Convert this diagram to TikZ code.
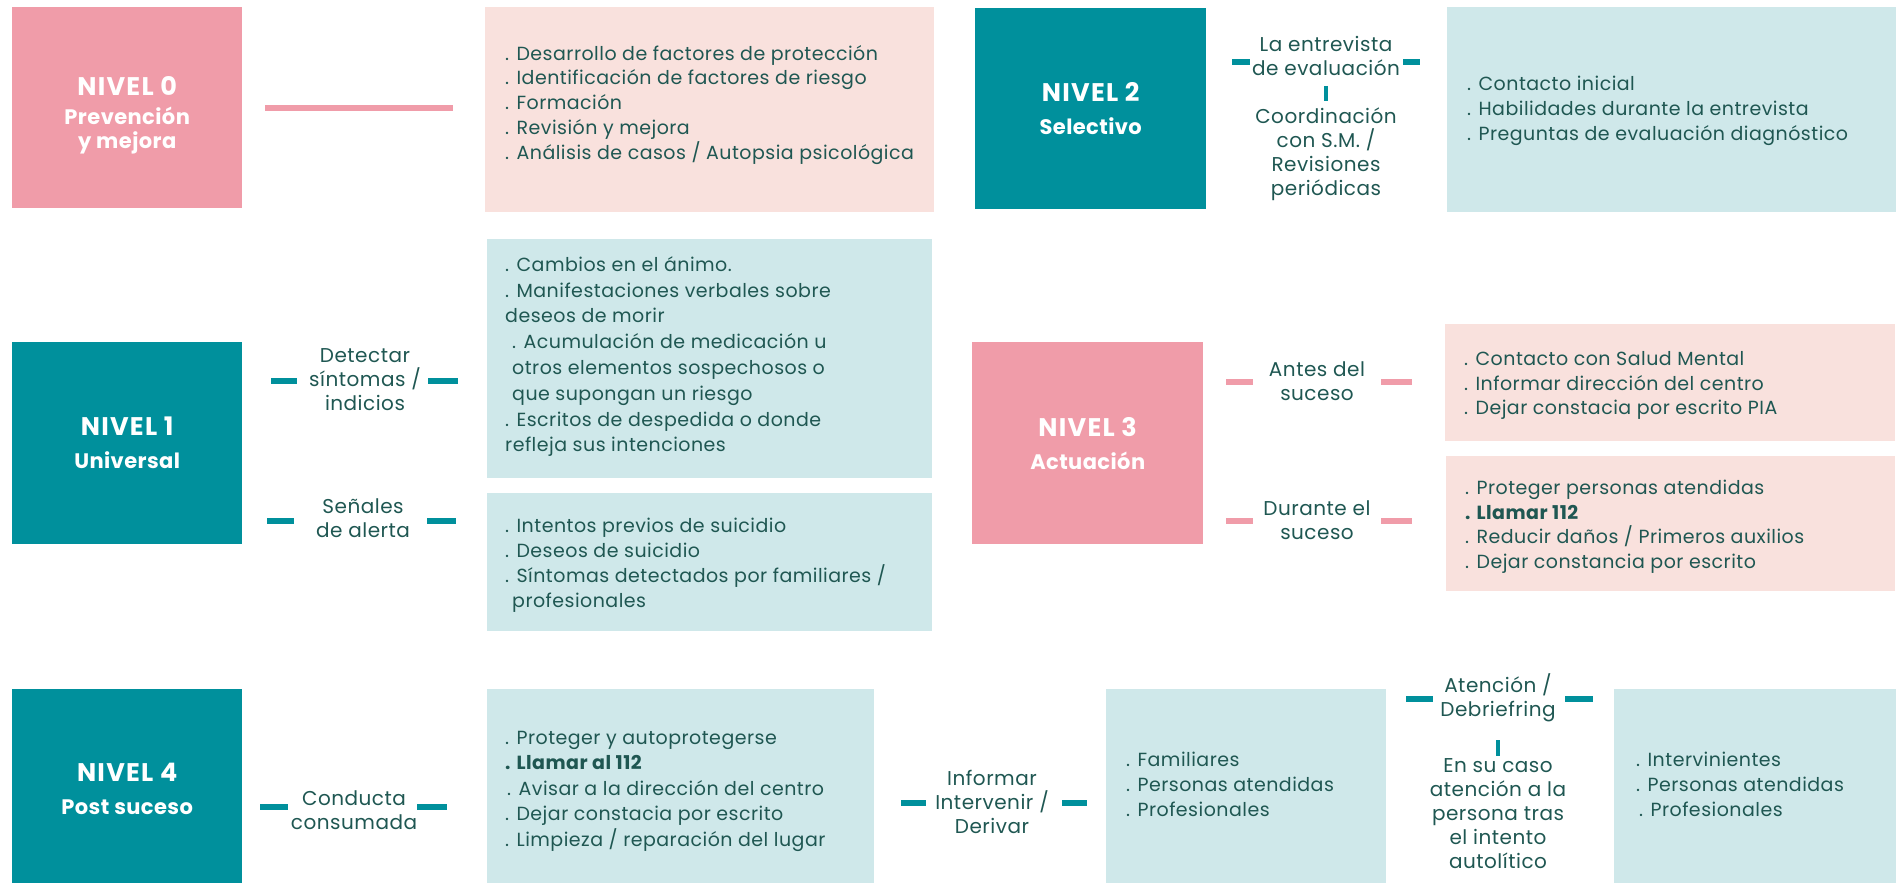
\documentclass[tikz,border=0pt]{standalone}
\usepackage{fontspec}
\setmainfont{Poppins}
\newfontfamily\cfont{Poppins}[LetterSpace=2.5]
\newfontfamily\tfont{Poppins}[LetterSpace=5]
\newfontfamily\sfont{Poppins}[LetterSpace=2]
\usetikzlibrary{calc}
\definecolor{teal1}{HTML}{00909C}
\definecolor{pink1}{HTML}{F09CA9}
\definecolor{lpink}{HTML}{F9E1DD}
\definecolor{lteal}{HTML}{CFE8EA}
\definecolor{txt}{HTML}{1F5752}
\newcommand{\ttl}[1]{{\tfont\bfseries\fontsize{25.5}{29}\selectfont #1}}
\newcommand{\ind}{\hspace*{7pt}}
\begin{document}
\begin{tikzpicture}[x=1pt,y=-1pt,
  title/.style={anchor=north west, inner sep=0pt, align=center, text=white,
    font=\sfont\bfseries\fontsize{21}{23.5}\selectfont},
  cbox/.style={anchor=north west, inner sep=0pt},
  ctext/.style={anchor=west, inner sep=0pt, align=left, text=txt, font=\cfont\fontsize{19}{24.7}\selectfont},
  lbl/.style={align=center, text=txt, inner sep=1pt, font=\cfont\fontsize{20}{24}\selectfont},
  tdash/.style={draw=teal1, line width=6pt},
  pdash/.style={draw=pink1, line width=6pt},
  tickl/.style={draw=teal1, line width=4pt}]
\useasboundingbox (0,0) rectangle (1896,883);

% ---------- NIVEL 0 ----------
\node[title, fill=pink1, minimum width=230pt, minimum height=201pt] (N0) at (12,7)
  {\ttl{\rule{0pt}{34pt}NIVEL 0}\\[5.5pt]Prevención\\y mejora};
\node[cbox, fill=lpink, minimum width=449pt, minimum height=205pt] (B0) at (485,7) {};
\node[ctext] (T0) at ($(B0.west)+(20,-5)$)
  {. Desarrollo de factores de protección\\. Identificación de factores de riesgo\\. Formación\\. Revisión y mejora\\. Análisis de casos / Autopsia psicológica};
\draw[pdash, shorten <=23pt, shorten >=32pt] (N0.east |- 0,108) -- (B0.west |- 0,108);

% ---------- NIVEL 2 ----------
\node[title, fill=teal1, minimum width=231pt, minimum height=201pt] (N2) at (975,8)
  {\ttl{NIVEL 2}\\[9.5pt]Selectivo};
\node[cbox, fill=lteal, minimum width=449pt, minimum height=205pt] (B2) at (1447,7) {};
\node[ctext] (T2) at ($(B2.west)+(20,1)$)
  {. Contacto inicial\\. Habilidades durante la entrevista\\. Preguntas de evaluación diagnóstico};
\node[lbl] (lblEnt) at (1326,56) {La entrevista\\de evaluación};
\node[lbl] (lblCoord) at (1326,154) {Coordinación\\con S.M. /\\Revisiones\\periódicas};
\draw[tdash] ($(N2.east |- lblEnt)+(26,6)$) -- ++(18,0);
\draw[tdash] ($(B2.west |- lblEnt)+(-44,6)$) -- ++(17,0);
\draw[tickl] ($(lblEnt)+(0,30)$) -- ($(lblCoord)+(0,-53)$);

% ---------- NIVEL 1 ----------
\node[title, fill=teal1, minimum width=230pt, minimum height=202pt] (N1) at (12,342)
  {\ttl{NIVEL 1}\\[9.5pt]Universal};
\node[cbox, fill=lteal, minimum width=445pt, minimum height=239pt] (B1a) at (487,239) {};
\node[ctext, font=\cfont\fontsize{19}{25.8}\selectfont] (T1a) at ($(B1a.west)+(18,-2)$)
  {. Cambios en el ánimo.\\. Manifestaciones verbales sobre\\deseos de morir\\\ind. Acumulación de medicación u\\\ind otros elementos sospechosos o\\\ind que supongan un riesgo\\. Escritos de despedida o donde\\refleja sus intenciones};
\node[cbox, fill=lteal, minimum width=445pt, minimum height=138pt] (B1b) at (487,493) {};
\node[ctext] (T1b) at ($(B1b.west)+(18,3)$)
  {. Intentos previos de suicidio\\. Deseos de suicidio\\. Síntomas detectados por familiares /\\\ind profesionales};
\node[lbl] (lblDet) at (365,380) {Detectar\\síntomas /\\indicios};
\node[lbl] (lblSen) at (363,518) {Señales\\de alerta};
\draw[tdash] ($(N1.east |- lblDet)+(29,1)$) -- ++(26,0);
\draw[tdash] ($(B1a.west |- lblDet)+(-59,1)$) -- ++(30,0);
\draw[tdash] ($(N1.east |- lblSen)+(25,3)$) -- ++(27,0);
\draw[tdash] ($(B1b.west |- lblSen)+(-60,3)$) -- ++(29,0);

% ---------- NIVEL 3 ----------
\node[title, fill=pink1, minimum width=231pt, minimum height=202pt] (N3) at (972,342)
  {\ttl{NIVEL 3}\\[9.5pt]Actuación};
\node[cbox, fill=lpink, minimum width=450pt, minimum height=117pt] (B3a) at (1445,324) {};
\node[ctext] (T3a) at ($(B3a.west)+(19,3)$)
  {. Contacto con Salud Mental\\. Informar dirección del centro\\. Dejar constacia por escrito PIA};
\node[cbox, fill=lpink, minimum width=449pt, minimum height=135pt] (B3b) at (1446,456) {};
\node[ctext] (T3b) at ($(B3b.west)+(19,3)$)
  {. Proteger personas atendidas\\\textbf{. Llamar 112}\\. Reducir daños / Primeros auxilios\\. Dejar constancia por escrito};
\node[lbl] (lblAntes) at (1317,381) {Antes del\\suceso};
\node[lbl] (lblDur) at (1317,520) {Durante el\\suceso};
\draw[pdash] ($(N3.east |- lblAntes)+(23,1)$) -- ++(27,0);
\draw[pdash] ($(B3a.west |- lblAntes)+(-64,1)$) -- ++(31,0);
\draw[pdash] ($(N3.east |- lblDur)+(23,1)$) -- ++(27,0);
\draw[pdash] ($(B3b.west |- lblDur)+(-65,1)$) -- ++(31,0);

% ---------- NIVEL 4 ----------
\node[title, fill=teal1, minimum width=230pt, minimum height=200pt] (N4) at (12,689)
  {\ttl{NIVEL 4}\\[9.5pt]Post suceso};
\node[cbox, fill=lteal, minimum width=387pt, minimum height=200pt] (B4) at (487,689) {};
\node[ctext, font=\cfont\fontsize{19}{25.4}\selectfont] (T4) at ($(B4.west)+(18,2)$)
  {. Proteger y autoprotegerse\\\textbf{. Llamar al 112}\\\hspace*{2pt}. Avisar a la dirección del centro\\. Dejar constacia por escrito\\. Limpieza / reparación del lugar};
\node[cbox, fill=lteal, minimum width=280pt, minimum height=200pt] (B5) at (1106,689) {};
\node[ctext] (T5) at ($(B5.west)+(20,-5)$)
  {. Familiares\\. Personas atendidas\\. Profesionales};
\node[cbox, fill=lteal, minimum width=282pt, minimum height=200pt] (B6) at (1614,689) {};
\node[ctext] (T6) at ($(B6.west)+(22,-5)$)
  {. Intervinientes\\. Personas atendidas\\\hspace*{3pt}. Profesionales};
\node[lbl] (lblCond) at (354,810) {Conducta\\consumada};
\node[lbl] (lblInf) at (992,802) {Informar\\Intervenir /\\Derivar};
\node[lbl] (lblAt) at (1498,698) {Atención /\\Debriefring};
\node[lbl] (lblEn) at (1498,814) {En su caso\\atención a la\\persona tras\\el intento\\autolítico};
\draw[tdash] ($(N4.east |- lblCond)+(18,-3)$) -- ++(28,0);
\draw[tdash] ($(B4.west |- lblCond)+(-70,-3)$) -- ++(30,0);
\draw[tdash] ($(B4.east |- lblInf)+(27,1)$) -- ++(25,0);
\draw[tdash] ($(B5.west |- lblInf)+(-44,1)$) -- ++(25,0);
\draw[tdash] ($(B5.east |- lblAt)+(20,1)$) -- ++(27,0);
\draw[tdash] ($(B6.west |- lblAt)+(-49,1)$) -- ++(28,0);
\draw[tickl] ($(lblAt)+(0,42)$) -- ($(lblEn)+(0,-58)$);
\end{tikzpicture}
\end{document}
